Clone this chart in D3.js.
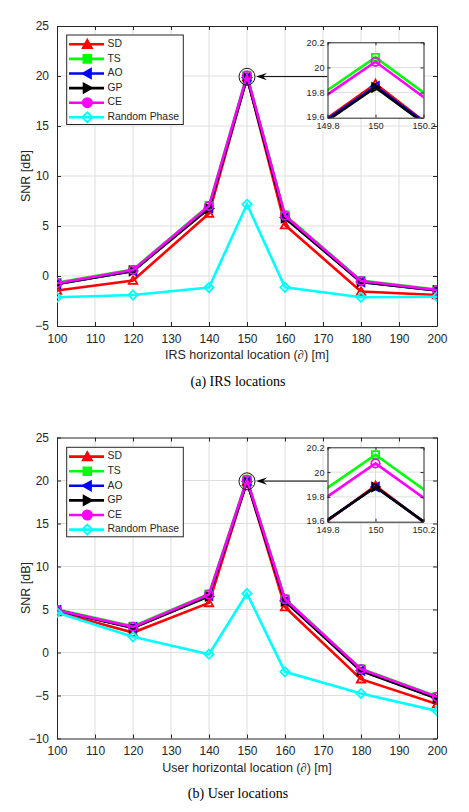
<!DOCTYPE html>
<html><head><meta charset="utf-8">
<script src="https://cdn.jsdelivr.net/npm/d3@7"></script>
<style>
html,body{margin:0;padding:0;background:#fff;}
svg{display:block;}
</style></head>
<body>
<svg id="chart" width="469" height="812"></svg>
<script>
// ---------- data ----------
const xLocs = [100, 120, 140, 150, 160, 180, 200];
const seriesNames = ["SD", "TS", "AO", "GP", "CE", "Random Phase"];
const seriesColors = ["#ff0000", "#00ff00", "#0000ff", "#000000", "#ff00ff", "#00ffff"];
const seriesMarkers = ["triUp", "square", "triLeft", "triRight", "circle", "diamond"];

// (a) IRS locations
const irsSD = [-1.45, -0.45, 6.25, 19.87, 5.1, -1.55, -1.9];
const irsTS = [-0.65, 0.65, 7.05, 20.08, 6.1, -0.45, -1.35];
const irsAO = [-0.8, 0.5, 6.8, 19.85, 5.85, -0.6, -1.45];
const irsGP = [-0.8, 0.5, 6.75, 19.84, 5.8, -0.6, -1.45];
const irsCE = [-0.72, 0.6, 7.0, 20.045, 6.03, -0.5, -1.4];
const irsRP = [-2.13, -1.9, -1.15, 7.17, -1.13, -2.13, -2.07];

// (b) User locations
const userSD = [4.72, 2.32, 5.77, 19.89, 5.3, -3.1, -6.0];
const userTS = [5.0, 3.05, 6.8, 20.14, 6.25, -1.9, -5.1];
const userAO = [4.9, 2.9, 6.6, 19.88, 6.0, -2.1, -5.3];
const userGP = [4.9, 2.85, 6.55, 19.88, 5.95, -2.15, -5.35];
const userCE = [4.92, 2.98, 6.74, 20.07, 6.2, -1.94, -5.16];
const userRP = [4.65, 1.82, -0.2, 6.86, -2.25, -4.77, -6.79];

const xTicks = [100, 110, 120, 130, 140, 150, 160, 170, 180, 190, 200];
const yTicksA = [-5, 0, 5, 10, 15, 20, 25];
const yTicksB = [-10, -5, 0, 5, 10, 15, 20, 25];
const insetXTicks = [149.8, 150, 150.2];
const insetYTicks = [19.6, 19.8, 20, 20.2];

const panels = [
  {
    series: [irsSD, irsTS, irsAO, irsGP, irsCE, irsRP],
    yDomain: [-5, 25], yTicks: yTicksA,
    top: 26, bottom: 326,
    xTitle: "IRS horizontal location (", caption: "(a) IRS locations",
    inset: {top: 42.3, bottom: 117.7},
    legendTop: 35
  },
  {
    series: [userSD, userTS, userAO, userGP, userCE, userRP],
    yDomain: [-10, 25], yTicks: yTicksB,
    top: 437.5, bottom: 738.5,
    xTitle: "User horizontal location (", caption: "(b) User locations",
    inset: {top: 447.3, bottom: 521.7},
    legendTop: 447.3
  }
];

// ---------- drawing ----------
const svg = d3.select("#chart");
const FONT = "'Liberation Sans', Arial, Helvetica, sans-serif";
const SERIF = "'Liberation Serif', 'Times New Roman', serif";
const LEFT = 57, RIGHT = 437;
const GRID = "#dedede";

function markerPath(type, s) {
  switch (type) {
    case "triUp": return `M0,${-s}L${s},${s*0.8}L${-s},${s*0.8}Z`;
    case "triLeft": return `M${-s},0L${s*0.8},${-s}L${s*0.8},${s}Z`;
    case "triRight": return `M${s},0L${-s*0.8},${-s}L${-s*0.8},${s}Z`;
    case "square": return `M${-s*0.85},${-s*0.85}H${s*0.85}V${s*0.85}H${-s*0.85}Z`;
    case "diamond": return `M0,${-s*1.1}L${s*1.1},0L0,${s*1.1}L${-s*1.1},0Z`;
    default: return d3.arc()({innerRadius: 0, outerRadius: s, startAngle: 0, endAngle: 2 * Math.PI});
  }
}

svg.append("rect").attr("width", 469).attr("height", 812).attr("fill", "#fff");
const defs = svg.append("defs");

panels.forEach((p, pi) => {
  const g = svg.append("g");
  const x = d3.scaleLinear().domain([100, 200]).range([LEFT, RIGHT]);
  const y = d3.scaleLinear().domain(p.yDomain).range([p.bottom, p.top]);

  // grid
  g.append("g").selectAll("line").data(xTicks.slice(1, -1)).join("line")
    .attr("x1", d => x(d)).attr("x2", d => x(d)).attr("y1", p.top).attr("y2", p.bottom)
    .attr("stroke", GRID).attr("stroke-width", 1);
  g.append("g").selectAll("line").data(p.yTicks.slice(1, -1)).join("line")
    .attr("y1", d => y(d)).attr("y2", d => y(d)).attr("x1", LEFT).attr("x2", RIGHT)
    .attr("stroke", GRID).attr("stroke-width", 1);

  // axes (MATLAB style, inward ticks)
  const ax = g.append("g");
  const xb = d3.axisBottom(x).tickValues(xTicks).tickSizeInner(-4).tickSizeOuter(0).tickPadding(8);
  ax.append("g").attr("transform", `translate(0,${p.bottom})`).call(xb);
  const xt = d3.axisTop(x).tickValues(xTicks).tickSizeInner(-4).tickSizeOuter(0).tickFormat("");
  ax.append("g").attr("transform", `translate(0,${p.top})`).call(xt);
  const yl = d3.axisLeft(y).tickValues(p.yTicks).tickSizeInner(-4).tickSizeOuter(0).tickPadding(8);
  ax.append("g").attr("transform", `translate(${LEFT},0)`).call(yl);
  const yr = d3.axisRight(y).tickValues(p.yTicks).tickSizeInner(-4).tickSizeOuter(0).tickFormat("");
  ax.append("g").attr("transform", `translate(${RIGHT},0)`).call(yr);
  ax.selectAll(".domain").attr("stroke", "#262626");
  ax.selectAll(".tick line").attr("stroke", "#262626");
  ax.selectAll("text").attr("fill", "#262626").attr("font-family", FONT).attr("font-size", 12);

  // clip
  const clipId = "clip" + pi;
  defs.append("clipPath").attr("id", clipId).append("rect")
    .attr("x", LEFT).attr("y", p.top).attr("width", RIGHT - LEFT).attr("height", p.bottom - p.top);

  const line = d3.line().x((d, i) => x(xLocs[i])).y(d => y(d));
  const dataG = g.append("g").attr("clip-path", `url(#${clipId})`);
  p.series.forEach((vals, si) => {
    dataG.append("path").datum(vals).attr("d", line)
      .attr("fill", "none").attr("stroke", seriesColors[si]).attr("stroke-width", 2.6)
      .attr("stroke-linejoin", "miter");
    dataG.append("g").selectAll("path").data(vals).join("path")
      .attr("transform", (d, i) => `translate(${x(xLocs[i])},${y(d)})`)
      .attr("d", markerPath(seriesMarkers[si], 4.2))
      .attr("fill", "none").attr("stroke", seriesColors[si]).attr("stroke-width", 1.8);
  });

  // y title
  g.append("text").attr("transform", `translate(${27},${(p.top + p.bottom) / 2}) rotate(-90)`)
    .attr("text-anchor", "middle").attr("dominant-baseline", "middle")
    .attr("font-family", FONT).attr("font-size", 12.5).attr("fill", "#262626").text("SNR [dB]");
  // x title
  const xtT = g.append("text").attr("x", (LEFT + RIGHT) / 2).attr("y", p.bottom + 30)
    .attr("text-anchor", "middle").attr("dominant-baseline", "middle")
    .attr("font-family", FONT).attr("font-size", 12.5).attr("fill", "#262626");
  xtT.append("tspan").text(p.xTitle);
  xtT.append("tspan").attr("font-style", "italic").attr("font-family", SERIF).text("∂");
  xtT.append("tspan").text(") [m]");
  // caption
  g.append("text").attr("x", 238).attr("y", p.bottom + 56.5)
    .attr("text-anchor", "middle").attr("dominant-baseline", "middle")
    .attr("font-family", SERIF).attr("font-size", 14).attr("fill", "#000").text(p.caption);

  // legend
  const lg = g.append("g");
  lg.append("rect").attr("x", 66.7).attr("y", p.legendTop).attr("width", 116.6).attr("height", 89.5)
    .attr("fill", "#fff").attr("stroke", "#262626").attr("stroke-width", 1);
  seriesNames.forEach((name, si) => {
    const ly = p.legendTop + 9.3 + si * 14.6;
    lg.append("line").attr("x1", 69).attr("x2", 104).attr("y1", ly).attr("y2", ly)
      .attr("stroke", seriesColors[si]).attr("stroke-width", 2.6);
    lg.append("path").attr("transform", `translate(87.3,${ly})`)
      .attr("d", markerPath(seriesMarkers[si], 4.6))
      .attr("fill", si === 5 ? "none" : seriesColors[si])
      .attr("stroke", seriesColors[si]).attr("stroke-width", 1.8);
    lg.append("text").attr("x", 107.5).attr("y", ly).attr("dominant-baseline", "middle")
      .attr("font-family", FONT).attr("font-size", 10.4).attr("fill", "#262626").text(name);
  });

  // annotation circle + arrow
  const cx = x(150), cy = y(20);
  g.append("ellipse").attr("cx", cx).attr("cy", cy + 0.8).attr("rx", 8).attr("ry", 8.5)
    .attr("fill", "none").attr("stroke", "#000").attr("stroke-width", 0.9);
  const insL = 327.5, insR = 423.5;
  g.append("line").attr("x1", insL).attr("x2", cx + 14).attr("y1", cy + 0.6).attr("y2", cy + 0.6)
    .attr("stroke", "#000").attr("stroke-width", 1);
  g.append("path")
    .attr("d", `M${cx + 9},${cy + 0.6}L${cx + 20},${cy - 3}L${cx + 16},${cy + 0.6}L${cx + 20},${cy + 4.2}Z`)
    .attr("fill", "#000");

  // inset
  const ins = p.inset;
  const ix = d3.scaleLinear().domain([149.8, 150.2]).range([insL, insR]);
  const iy = d3.scaleLinear().domain([19.6, 20.2]).range([ins.bottom, ins.top]);
  const ig = g.append("g");
  ig.append("rect").attr("x", insL).attr("y", ins.top).attr("width", insR - insL).attr("height", ins.bottom - ins.top)
    .attr("fill", "#fff");
  ig.append("g").selectAll("line").data([150]).join("line")
    .attr("x1", d => ix(d)).attr("x2", d => ix(d)).attr("y1", ins.top).attr("y2", ins.bottom)
    .attr("stroke", GRID);
  ig.append("g").selectAll("line").data([19.8, 20]).join("line")
    .attr("y1", d => iy(d)).attr("y2", d => iy(d)).attr("x1", insL).attr("x2", insR)
    .attr("stroke", GRID);
  const iclip = "iclip" + pi;
  defs.append("clipPath").attr("id", iclip).append("rect")
    .attr("x", insL).attr("y", ins.top).attr("width", insR - insL).attr("height", ins.bottom - ins.top);
  const iline = d3.line().x((d, i) => ix(xLocs[i])).y(d => iy(d));
  const idata = ig.append("g").attr("clip-path", `url(#${iclip})`);
  p.series.forEach((vals, si) => {
    if (si === 5) return;
    idata.append("path").datum(vals).attr("d", iline)
      .attr("fill", "none").attr("stroke", seriesColors[si]).attr("stroke-width", 2.6);
    idata.append("g").selectAll("path").data(vals.map((v, i) => [xLocs[i], v]).filter(d => d[0] === 150)).join("path")
      .attr("transform", d => `translate(${ix(d[0])},${iy(d[1])})`)
      .attr("d", markerPath(seriesMarkers[si], 4.2))
      .attr("fill", "none").attr("stroke", seriesColors[si]).attr("stroke-width", 1.8);
  });
  const iax = ig.append("g");
  iax.append("g").attr("transform", `translate(0,${ins.bottom})`)
    .call(d3.axisBottom(ix).tickValues(insetXTicks).tickSizeInner(-3).tickSizeOuter(0).tickPadding(4.5).tickFormat(d3.format("")));
  iax.append("g").attr("transform", `translate(0,${ins.top})`)
    .call(d3.axisTop(ix).tickValues(insetXTicks).tickSizeInner(-3).tickSizeOuter(0).tickFormat(""));
  const iyAx = iax.append("g").attr("transform", `translate(${insL},0)`)
    .call(d3.axisLeft(iy).tickValues(insetYTicks).tickSizeInner(-3).tickSizeOuter(0).tickPadding(3).tickFormat(d3.format("")));
  // lift the lowest y label slightly so it clears the x labels
  iyAx.selectAll(".tick text").filter(d => d === 19.6).attr("dy", "0.15em");
  iax.append("g").attr("transform", `translate(${insR},0)`)
    .call(d3.axisRight(iy).tickValues(insetYTicks).tickSizeInner(-3).tickSizeOuter(0).tickFormat(""));
  iax.selectAll(".domain").attr("stroke", "#262626");
  iax.selectAll(".tick line").attr("stroke", "#262626");
  iax.selectAll("text").attr("fill", "#262626").attr("font-family", FONT).attr("font-size", 9.2);
});
</script>
</body></html>
